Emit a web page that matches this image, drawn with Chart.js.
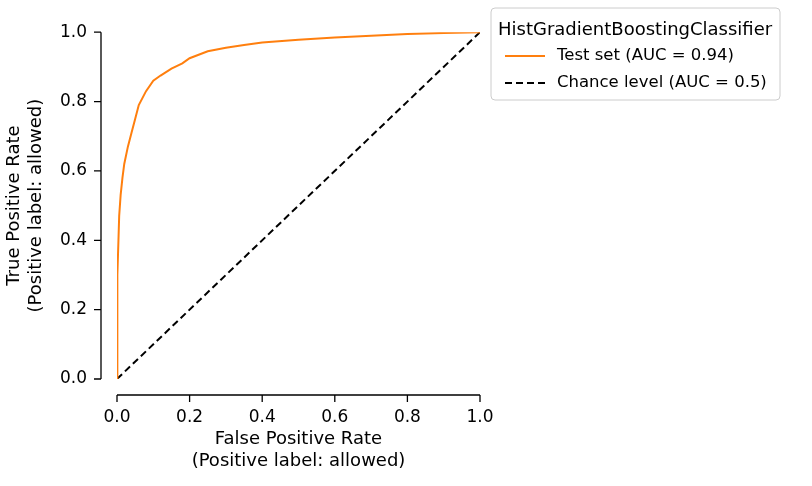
<!DOCTYPE html>
<html><head><script src="https://cdn.jsdelivr.net/npm/chart.js@4"></script>
<style>body{margin:0;background:#fff}#w{width:812px;height:486px}</style></head>
<body><div id="w"><canvas id="c"></canvas></div>
<script>
const fpr=[0,0,0.002,0.004,0.006,0.01,0.015,0.02,0.03,0.04,0.05,0.06,0.08,0.1,0.12,0.15,0.18,0.2,0.25,0.3,0.35,0.4,0.5,0.6,0.7,0.8,0.9,1];
const tpr=[0,0.15,0.3,0.4,0.47,0.53,0.58,0.62,0.67,0.71,0.75,0.79,0.83,0.86,0.875,0.895,0.91,0.925,0.945,0.955,0.963,0.97,0.978,0.985,0.99,0.995,0.998,1];
const chanceX=[0,1], chanceY=[0,1];
const ticks=[0,0.2,0.4,0.6,0.8,1.0];
const legendTitle='HistGradientBoostingClassifier';
const labels=['Test set (AUC = 0.94)','Chance level (AUC = 0.5)'];
const F='"DejaVu Sans"';
const OFF=16;
const axesPlugin={id:'ax',afterDraw(ch){
 const c=ch.ctx,a=ch.chartArea,x=ch.scales.x,y=ch.scales.y;
 c.save();c.strokeStyle='#000';c.lineWidth=1.3;
 const by=a.bottom+OFF, lx=a.left-OFF;
 c.beginPath();c.moveTo(x.getPixelForValue(0),by);c.lineTo(x.getPixelForValue(1),by);
 c.moveTo(lx,y.getPixelForValue(0));c.lineTo(lx,y.getPixelForValue(1));
 ticks.forEach(t=>{const px=x.getPixelForValue(t);c.moveTo(px,by);c.lineTo(px,by+7);
  const py=y.getPixelForValue(t);c.moveTo(lx,py);c.lineTo(lx-7,py);});
 c.stroke();
 const L=491,T=8,W=289,H=92;
 c.fillStyle='rgba(255,255,255,0.8)';c.strokeStyle='#ccc';c.lineWidth=1;
 c.beginPath();c.roundRect(L,T,W,H,4);c.fill();c.stroke();
 c.fillStyle='#000';c.textBaseline='middle';c.font='18px '+F;
 c.fillText(legendTitle,L+7,T+22);
 c.font='16.5px '+F;
 c.fillText(labels[0],L+66,T+48);c.fillText(labels[1],L+66,T+75);
 c.lineWidth=2;c.strokeStyle='#ff7f0e';c.beginPath();c.moveTo(L+14,T+48);c.lineTo(L+54,T+48);c.stroke();
 c.strokeStyle='#000';c.setLineDash([7,4]);c.beginPath();c.moveTo(L+14,T+75);c.lineTo(L+54,T+75);c.stroke();
 c.restore();}};
new Chart(document.getElementById('c'),{type:'scatter',
 data:{datasets:[
  {data:fpr.map((v,i)=>({x:v,y:tpr[i]})),showLine:true,borderColor:'#ff7f0e',borderWidth:2,pointRadius:0,tension:0},
  {data:chanceX.map((v,i)=>({x:v,y:chanceY[i]})),showLine:true,borderColor:'#000',borderDash:[7,4],borderWidth:2,pointRadius:0}]},
 options:{responsive:true,maintainAspectRatio:false,animation:false,
  layout:{padding:{top:0,right:332,left:0,bottom:0}},
  plugins:{legend:{display:false},tooltip:{enabled:false}},
  scales:{
   x:{type:'linear',min:0,max:1,afterBuildTicks:s=>{s.ticks=ticks.map(v=>({value:v}))},afterFit:s=>{s.height=107},
    grid:{display:false},border:{display:false},
    ticks:{padding:20,color:'#000',font:{family:F,size:17},callback:v=>v.toFixed(1),maxRotation:0},
    title:{display:true,text:['False Positive Rate','(Positive label: allowed)'],color:'#000',font:{family:F,size:18},padding:{top:0,bottom:14}}},
   y:{type:'linear',min:0,max:1,afterBuildTicks:s=>{s.ticks=ticks.map(v=>({value:v}))},afterFit:s=>{s.width=117},
    grid:{display:false},border:{display:false},
    ticks:{padding:22,color:'#000',font:{family:F,size:17},callback:v=>v.toFixed(1)},
    title:{display:true,text:['True Positive Rate','(Positive label: allowed)'],color:'#000',font:{family:F,size:18},padding:{bottom:0}}}}},
 plugins:[axesPlugin]});
</script></body></html>
